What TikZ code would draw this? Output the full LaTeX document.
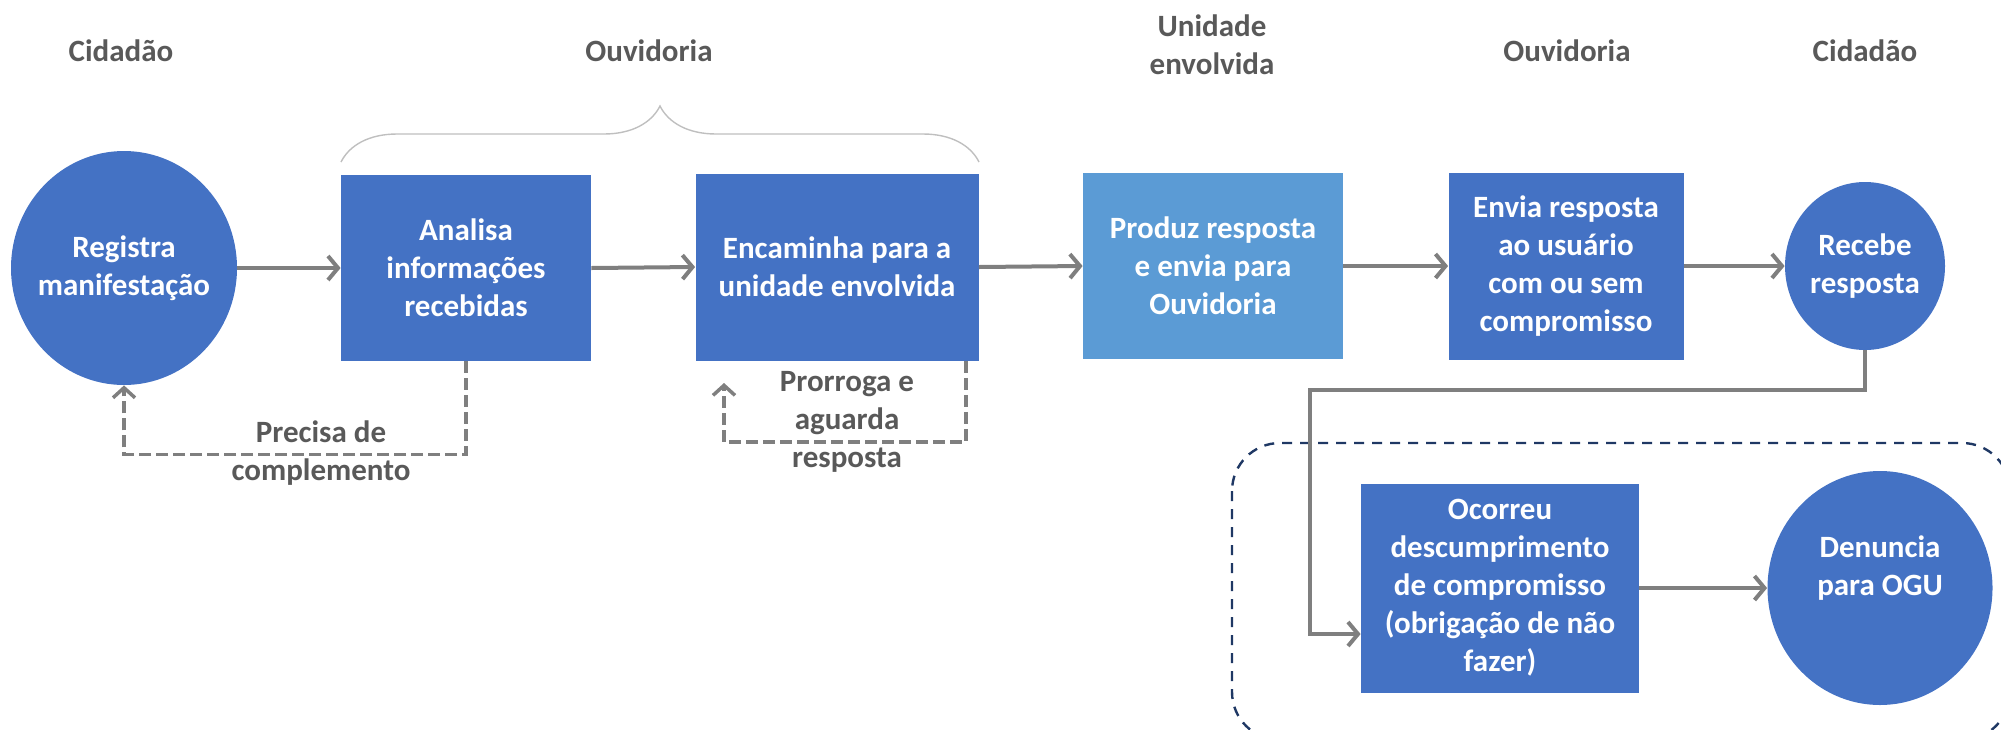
\documentclass[tikz,border=0pt]{standalone}
\usepackage{fontspec}
\setmainfont{Carlito}
\usetikzlibrary{arrows.meta,positioning,shapes.geometric,decorations.pathreplacing}
\definecolor{boxblue}{HTML}{4472C4}
\definecolor{lightblue}{HTML}{5B9BD5}
\definecolor{linegray}{HTML}{7F7F7F}
\definecolor{textgray}{HTML}{595959}
\definecolor{navy}{HTML}{1F3864}
\definecolor{bracegray}{HTML}{BFBFBF}
\newcommand{\flowfont}{\bfseries\fontsize{15.5}{19}\selectfont}

\tikzset{
  stage/.style={rectangle, fill=boxblue, text=white, align=center, inner sep=2pt, font=\flowfont},
  actor/.style={ellipse, fill=boxblue, text=white, align=center, inner sep=-4pt, font=\flowfont},
  header/.style={text=textgray, align=center, font=\flowfont},
  note/.style={text=textgray, align=center, font=\flowfont},
  flow/.style={draw=linegray, line width=2pt, -{Straight Barb[length=5pt,width=12pt]}},
  back/.style={draw=linegray, line width=1.75pt, dash pattern=on 6pt off 2.5pt, -{Straight Barb[length=5pt,width=11pt]}},
}

\begin{document}
\begin{tikzpicture}[x=0.5pt,y=-0.5pt]
\useasboundingbox (0,0) rectangle (2001,729);
\clip (0,0) rectangle (2001,729);

% Column headers
\node[header] (cid1) at (121,51) {Cidadão};
\node[header] (ouv1) at (649,51) {Ouvidoria};
\node[header] (unid) at (1212,45) {Unidade\\envolvida};
\node[header] (ouv2) at (1567,51) {Ouvidoria};
\node[header] (cid2) at (1865,51) {Cidadão};

% Brace over the two Ouvidoria steps
\draw[bracegray, line width=0.7pt, decorate, decoration={brace, amplitude=28pt}] (341,162) -- (979,162);

% Main flow
\node[actor, minimum width=113pt, minimum height=117pt] (reg) at (124,268) {Registra\\manifestação};
\node[stage, minimum width=125pt, minimum height=93pt] (ana) at (466,268) {Analisa\\informações\\recebidas};
\node[stage, minimum width=141.5pt, minimum height=93.5pt] (enc) at (837,267) {Encaminha para a\\unidade envolvida};
\node[stage, fill=lightblue, minimum width=130pt, minimum height=93pt] (prod) at (1213,266) {Produz resposta\\e envia para\\Ouvidoria};
\node[stage, minimum width=117.5pt, minimum height=93.5pt] (env) at (1566,266) {Envia resposta\\ao usuário\\com ou sem\\compromisso};
\node[actor, minimum width=80pt, minimum height=84pt] (rec) at (1865,266) {Recebe\\resposta};

\draw[flow] (reg.east) -- (ana.west);
\draw[flow] (ana.east) -- (enc.west);
\draw[flow] (enc.east) -- (prod.west);
\draw[flow] (prod.east) -- (env.west);
\draw[flow] (env.east) -- (rec.west);

% Return loops
\draw[back] (ana.south) -- ++(0,93) -| (reg.south);
\node[note] (prec) at (321,453) {Precisa de\\complemento};
\coordinate (wait) at (724,383);
\draw[back] ([xshift=-6.5pt]enc.south east) -- ++(0,81) -| (wait);
\node[note] (pror) at (847,422) {Prorroga e\\aguarda\\resposta};

% Non-compliance branch
\draw[navy, line width=1.2pt, dash pattern=on 5pt off 4pt, rounded corners=24pt] (1232,443) rectangle (2010,740);
\node[stage, minimum width=139pt, minimum height=104.5pt] (oco) at (1500,588) {Ocorreu\\descumprimento\\de compromisso\\(obrigação de não\\fazer)};
\node[actor, minimum width=112.5pt, minimum height=117pt,
  label={[text=white, align=center, font=\flowfont, yshift=10pt]center:Denuncia\\para OGU}] (ogu) at (1880,588) {};
\coordinate (turn) at (1310,390);
\draw[flow] (rec.south) |- (turn) |- ([yshift=-23pt]oco.west);
\draw[flow] (oco.east) -- (ogu.west);
\end{tikzpicture}
\end{document}
